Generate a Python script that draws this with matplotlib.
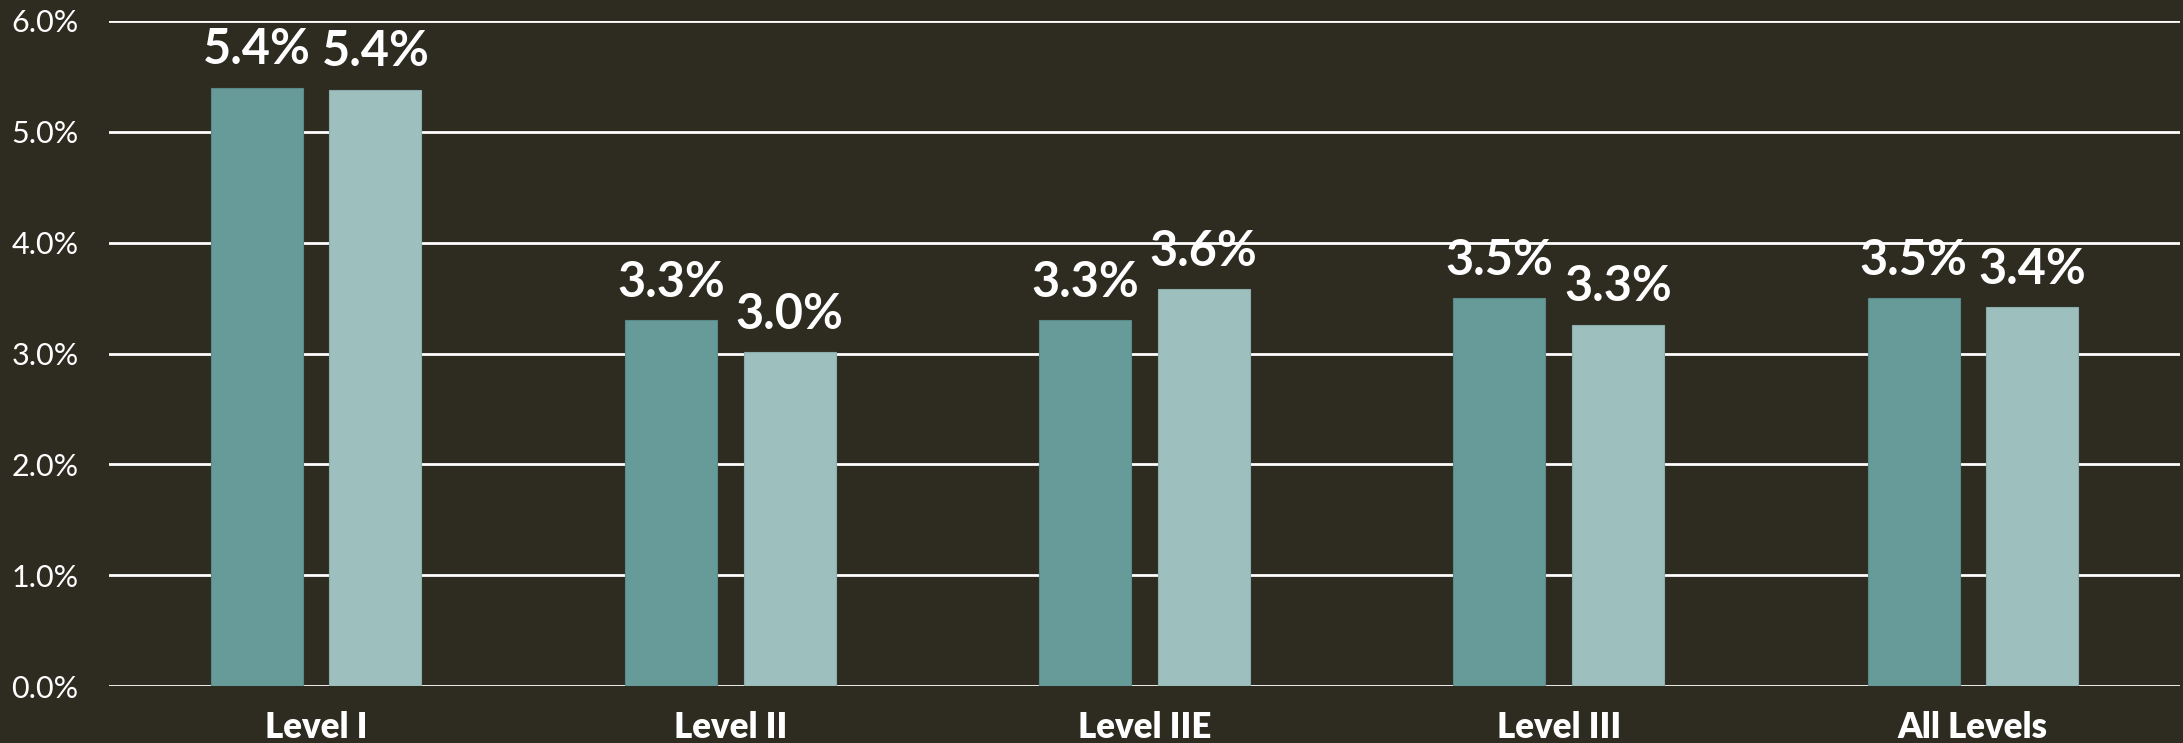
import matplotlib
matplotlib.use("Agg")
import matplotlib.pyplot as plt
import numpy as np

categories = ["Level I", "Level II", "Level IIE", "Level III", "All Levels"]
series_a = [5.4, 3.3, 3.3, 3.5, 3.5]
series_b = [5.38, 3.01, 3.58, 3.26, 3.42]
yticks = [0, 1, 2, 3, 4, 5, 6]

bg = "#2e2b21"
col_a = "#679b99"
col_b = "#9dbfbe"

plt.rcParams["font.family"] = ["Lato", "DejaVu Sans"]

fig = plt.figure(figsize=(21.83, 7.43), dpi=100, facecolor=bg)
ax = fig.add_axes([109 / 2183, 1 - 686 / 743, 2071 / 2183, (686 - 21) / 743])
ax.set_facecolor(bg)

x = np.arange(len(categories))
w = 0.222
off = 0.143
bars_a = ax.bar(x - off, series_a, w, color=col_a, edgecolor="#5a8a88", linewidth=0.8, zorder=3)
bars_b = ax.bar(x + off, series_b, w, color=col_b, edgecolor="#8aaead", linewidth=0.8, zorder=3)

# value labels above each bar
for bars, vals in ((bars_a, series_a), (bars_b, series_b)):
    for b, v in zip(bars, vals):
        ax.annotate(f"{v:.1f}%", (b.get_x() + b.get_width() / 2, v),
                    xytext=(0, 11), textcoords="offset points",
                    ha="center", va="bottom", color="white",
                    fontsize=35, fontweight="bold", zorder=5)

ax.set_xlim(-0.5, 4.5)
ax.set_ylim(0, 6)
ax.set_yticks(yticks)
ax.set_yticklabels([f"{t:.1f}%" for t in yticks], color="white", fontsize=22)
ax.set_xticks(x)
ax.set_xticklabels(categories, color="white", fontsize=25, fontweight="heavy")
ax.tick_params(axis="y", length=0, pad=22)
ax.tick_params(axis="x", length=0, pad=18)
ax.grid(axis="y", color="white", linewidth=2, zorder=1)
ax.set_axisbelow(True)
for s in ax.spines.values():
    s.set_visible(False)

fig.savefig("out.png", dpi=100, facecolor=bg)
